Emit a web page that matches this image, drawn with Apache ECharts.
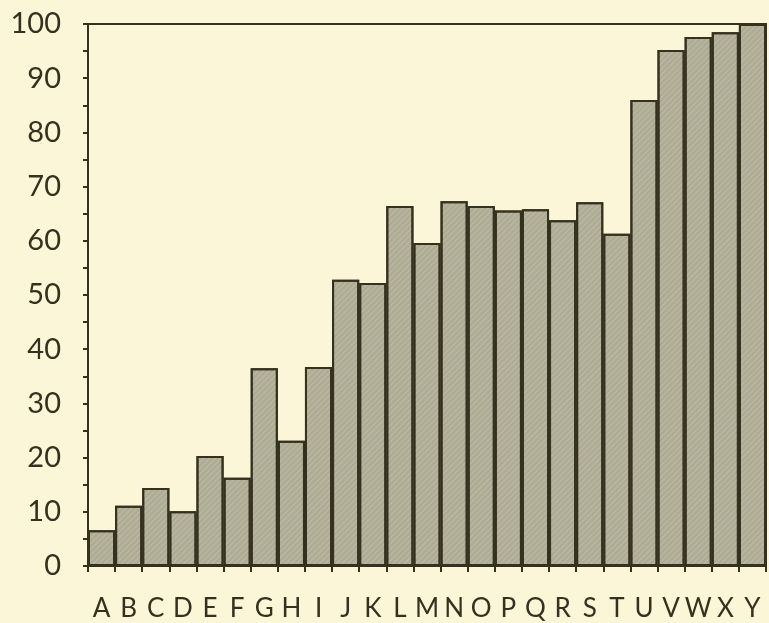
<!DOCTYPE html>
<html>
<head>
<meta charset="utf-8">
<script src="https://cdn.jsdelivr.net/npm/echarts@6/dist/echarts.min.js"></script>
<style>
	html, body { margin: 0; padding: 0; background: #fcf6d8; }
	#chart { width: 769px; height: 623px; }
</style>
</head>
<body>
<div id="chart"></div>
<script>
const letters = ['A', 'B', 'C', 'D', 'E', 'F', 'G', 'H', 'I', 'J', 'K', 'L', 'M', 'N', 'O', 'P', 'Q', 'R', 'S', 'T', 'U', 'V', 'W', 'X', 'Y'];
const values = [6.6, 11.1, 14.4, 10.1, 20.3, 16.3, 36.5, 23.1, 36.7, 52.8, 52.2, 66.4, 59.6, 67.3, 66.4, 65.6, 65.8, 63.8, 67.1, 61.3, 86.0, 95.2, 97.6, 98.5, 100];
const yMin = 0;
const yMax = 100;
const yStep = 10;

const ink = '#35311f';
const chart = echarts.init(document.getElementById('chart'));
chart.setOption({
	backgroundColor: '#fcf6d8',
	textStyle: { fontFamily: 'Lato, "DejaVu Sans", sans-serif' },
	grid: {
		left: 88, right: 3, top: 24, bottom: 57,
		show: true, borderColor: ink, borderWidth: 2,
	},
	xAxis: {
		type: 'category',
		data: letters,
		axisLine: { lineStyle: { color: ink, width: 2 } },
		axisTick: { show: true, length: 6, lineStyle: { color: ink, width: 2 } },
		axisLabel: { color: ink, fontSize: 26, margin: 30, interval: 0 },
		splitLine: { show: false },
	},
	yAxis: {
		type: 'value',
		min: yMin, max: yMax, interval: yStep,
		axisLine: { show: true, lineStyle: { color: ink, width: 2 } },
		axisTick: { show: true, length: 5, lineStyle: { color: ink, width: 2 } },
		minorTick: { show: true, splitNumber: 2, length: 5, lineStyle: { color: ink, width: 2 } },
		axisLabel: { color: ink, fontSize: 29, margin: 27 },
		splitLine: { show: false },
	},
	series: [{
		type: 'bar',
		data: values,
		barCategoryGap: '0%',
		itemStyle: {
			color: '#afac95',
			borderColor: ink,
			borderWidth: 2,
			decal: {
				symbol: 'rect',
				color: 'rgba(255,255,240,0.18)',
				dashArrayX: [1, 0],
				dashArrayY: [1, 3],
				rotation: -Math.PI / 4,
			},
		},
		emphasis: { disabled: true },
		animation: false,
	}],
});
</script>
</body>
</html>
